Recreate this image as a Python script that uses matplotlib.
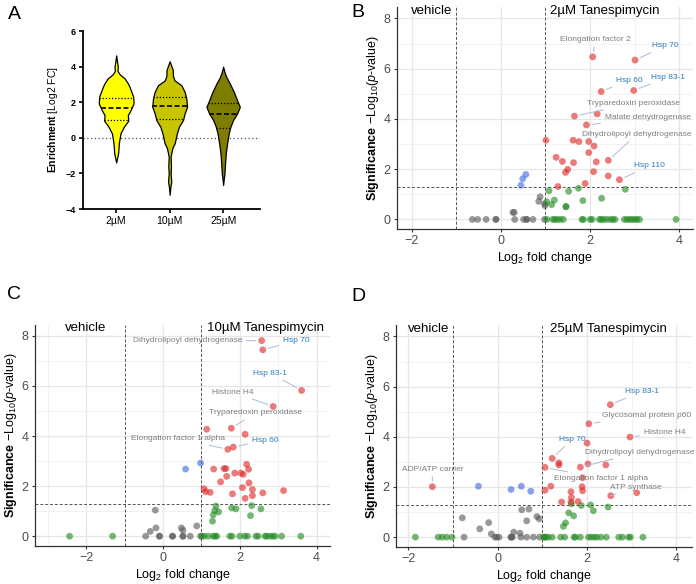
import numpy as np
import matplotlib
matplotlib.use("Agg")
from matplotlib import pyplot as plt
from matplotlib.ticker import MultipleLocator

plt.rcParams['font.family'] = ['Liberation Sans', 'DejaVu Sans']
plt.rcParams['mathtext.fontset'] = 'custom'
plt.rcParams['mathtext.rm'] = 'Liberation Sans'
plt.rcParams['mathtext.it'] = 'Liberation Sans:italic'
plt.rcParams['mathtext.bf'] = 'Liberation Sans:bold'

# ---------------- Panel A: violin profiles (y level, half width) ----------------
doses = ['2µM', '10µM', '25µM']
violin_colors = ['#ffff00', '#c8c400', '#7f7d00']

v1_y = [-1.38, -1.1, -0.86, -0.3, 0.25, 0.63, 0.96, 1.28, 1.56, 1.93, 2.31, 2.86, 3.05, 3.33, 3.57, 3.75, 4.0, 4.3, 4.63]
v1_w = [0.0, 0.02, 0.037, 0.05, 0.08, 0.145, 0.225, 0.218, 0.27, 0.325, 0.318, 0.25, 0.22, 0.16, 0.065, 0.025, 0.03, 0.015, 0.0]
v2_y = [-3.2, -2.8, -2.45, -2.0, -1.6, -1.05, -0.58, -0.3, 0.25, 0.63, 1.0, 1.37, 1.74, 2.2, 2.58, 2.95, 3.23, 3.5, 3.8, 4.05, 4.3]
v2_w = [0.0, 0.012, 0.03, 0.018, 0.025, 0.018, 0.05, 0.095, 0.135, 0.175, 0.25, 0.28, 0.325, 0.312, 0.28, 0.22, 0.09, 0.06, 0.06, 0.03, 0.0]
v3_y = [-2.65, -2.3, -2.0, -1.4, -0.86, -0.3, 0.25, 0.63, 1.0, 1.37, 1.74, 2.1, 2.58, 3.05, 3.4, 3.7, 4.0]
v3_w = [0.0, 0.012, 0.025, 0.037, 0.05, 0.075, 0.105, 0.137, 0.187, 0.262, 0.312, 0.262, 0.2, 0.125, 0.062, 0.025, 0.0]
q_low = [1.0, 1.05, 0.55]
q_med = [1.68, 1.78, 1.35]
q_high = [2.25, 2.3, 1.97]

# ---------------- Panel B: 2µM ----------------
b_red_x = [2.06, 3.01, 2.25, 2.98, 1.65, 2.16, 1.92, 1.01, 1.62, 1.75, 1.97, 2.09, 1.97, 2.41, 2.14, 1.24, 1.38, 1.63, 1.50, 1.45, 2.08, 2.41, 2.66, 1.28, 1.89]
b_red_y = [6.47, 6.34, 5.09, 5.13, 4.11, 4.20, 3.76, 3.15, 3.15, 3.10, 3.10, 2.92, 2.66, 2.35, 2.29, 2.47, 2.31, 2.26, 1.99, 1.87, 1.90, 1.73, 1.58, 1.31, 1.43]
b_blue_x = [0.45, 0.49, 0.56]
b_blue_y = [1.36, 1.62, 1.79]
b_green_x = [1.08, 1.14, 1.20, 1.46, 1.52, 1.74, 1.84, 2.26, 2.79, 1.03, 1.46,
             1.03, 1.16, 1.21, 1.26, 1.33, 1.40, 1.82, 1.85, 2.00, 2.05, 2.21, 2.25, 2.30, 2.37, 2.45,
             2.51, 2.56, 2.77, 2.83, 2.89, 2.94, 3.00, 3.05, 3.11, 3.93]
b_green_y = [1.14, 0.59, 0.77, 0.50, 1.12, 1.24, 0.75, 0.84, 1.20, 0.70, 0.52,
             0, 0, 0, 0, 0, 0, 0, 0, 0, 0, 0, 0, 0, 0, 0,
             0, 0, 0, 0, 0, 0, 0, 0, 0, 0]
b_grey_x = [0.88, 0.85, 0.99, 0.98, 0.27, 0.30, -0.64, -0.52, -0.33, -0.11, -0.11, 0.31, 0.51, 0.58, 0.58, 0.72, 0.98]
b_grey_y = [0.90, 0.72, 0.55, 0.62, 0.28, 0.28, 0, 0, 0, 0, 0, 0, 0, 0, 0, 0, 0]
b_labels = ['Elongation factor 2', 'Hsp 70', 'Hsp 60', 'Hsp 83-1', 'Tryparedoxin peroxidase',
            'Malate dehydrogenase', 'Dihydrolipoyl dehydrogenase', 'Hsp 110']
b_lab_pt = [(2.06, 6.47), (3.01, 6.34), (2.25, 5.09), (2.98, 5.13), (1.65, 4.11), (1.92, 3.76), (2.41, 2.35), (2.66, 1.58)]
b_lab_txt = [(2.12, 7.16), (3.69, 6.91), (2.87, 5.53), (3.74, 5.65), (2.98, 4.62), (3.29, 4.05), (3.05, 3.38), (3.34, 2.13)]
b_lab_hsp = [False, True, True, True, False, False, False, True]

# ---------------- Panel C: 10µM ----------------
c_red_x = [2.57, 2.60, 3.61, 2.87, 1.14, 1.78, 2.14, 1.69, 1.83, 1.32, 1.59, 1.64, 2.18, 2.23, 1.87, 2.03, 2.09, 1.66,
           1.50, 2.24, 2.07, 2.33, 2.33, 2.14, 2.60, 3.14, 1.07, 1.11, 1.23, 1.81]
c_red_y = [7.81, 7.44, 5.82, 5.18, 4.27, 4.31, 4.07, 3.47, 3.56, 2.68, 2.70, 2.70, 2.87, 2.67, 2.52, 2.52, 2.47, 2.39,
           2.17, 2.13, 1.94, 1.86, 1.62, 1.51, 1.73, 1.82, 1.89, 1.78, 1.75, 1.69]
c_blue_x = [0.59, 0.98]
c_blue_y = [2.68, 2.92]
c_green_x = [1.38, 1.35, 1.45, 1.31, 1.29, 1.79, 1.90, 2.31, 2.55, 2.28,
             -2.43, -1.31, 1.01, 1.07, 1.18, 1.31, 1.36, 1.40, 1.74, 1.80, 2.00, 2.13, 2.20, 2.42, 2.48,
             2.66, 2.70, 2.79, 2.86, 2.92, 3.09, 3.59]
c_green_y = [1.20, 1.02, 0.97, 0.85, 0.60, 1.13, 1.09, 1.22, 1.09, 0.82,
             0, 0, 0, 0, 0, 0, 0, 0, 0, 0, 0, 0, 0, 0, 0,
             0, 0, 0, 0, 0, 0, 0]
c_grey_x = [-0.20, -0.18, -0.33, 0.48, 0.52, 0.88, -0.45, -0.09, -0.09, 0.25, 0.25, 0.52, 0.52, 0.71, 0.98]
c_grey_y = [1.04, 0.33, 0.19, 0.33, 0.24, 0.41, 0, 0, 0, 0, 0, 0, 0, 0, 0]
c_labels = ['Dihydrolipoyl dehydrogenase', 'Hsp 70', 'Hsp 83-1', 'Histone H4', 'Tryparedoxin peroxidase',
            'Elongation factor 1 alpha', 'Hsp 60']
c_lab_pt = [(2.57, 7.81), (2.60, 7.44), (3.61, 5.82), (2.87, 5.18), (1.78, 4.31), (1.69, 3.47), (1.83, 3.56)]
c_lab_txt = [(0.64, 7.81), (3.47, 7.81), (2.80, 6.51), (1.83, 5.75), (2.41, 4.92), (0.40, 3.89), (2.66, 3.83)]
c_lab_hsp = [False, True, True, False, False, False, True]

# ---------------- Panel D: 25µM ----------------
d_red_x = [2.52, 2.04, 2.96, 2.00, 1.22, 1.37, 1.37, 2.02, 2.42, 1.85, 1.06, 1.90, -1.46, 1.19, 1.06, 1.89,
           1.64, 1.65, 1.90, 2.53, 3.11, 1.43, 1.64, 1.80]
d_red_y = [5.28, 4.52, 3.99, 3.75, 3.14, 2.96, 2.88, 2.92, 2.88, 2.79, 2.78, 2.37, 2.01, 2.03, 1.87, 2.01,
           1.81, 1.58, 1.85, 1.65, 1.77, 1.40, 1.40, 1.42]
d_blue_x = [-0.43, 0.30, 0.53, 0.74]
d_blue_y = [2.03, 1.90, 2.03, 1.83]
d_green_x = [1.65, 1.87, 2.08, 2.14, 2.47, 1.59, 1.70, 1.52, 1.47,
             -1.84, -1.33, -1.24, -1.14, -1.02, 1.04, 1.04, 1.08, 1.13, 1.22, 1.41, 1.50, 1.71, 1.74, 1.85,
             2.03, 2.09, 2.16, 2.22, 2.31, 2.43, 2.71, 2.79, 2.93, 2.97, 3.25]
d_green_y = [1.33, 1.26, 1.28, 1.05, 1.20, 0.97, 0.85, 0.57, 0.43,
             0, 0, 0, 0, 0, 0, 0, 0, 0, 0, 0, 0, 0, 0, 0,
             0, 0, 0, 0, 0, 0, 0, 0, 0, 0, 0]
d_grey_x = [-0.79, -0.40, -0.20, -0.14, 0.36, 0.50, 0.54, 0.70, 0.65, 0.88, 0.93,
            -0.75, -0.06, -0.02, 0.03, 0.30, 0.30, 0.33, 0.52, 0.65, 0.80, 0.94]
d_grey_y = [0.77, 0.33, 0.58, 0.13, 0.20, 0.16, 1.09, 1.12, 0.65, 0.82, 0.73,
            0, 0, 0, 0, 0, 0, 0, 0, 0, 0, 0]
d_labels = ['Hsp 83-1', 'Glycosomal protein p60', 'Histone H4', 'Hsp 70', 'Dihydrolipoyl dehydrogenase',
            'ADP/ATP carrier', 'Elongation factor 1 alpha', 'ATP synthase']
d_lab_pt = [(2.52, 5.28), (2.04, 4.52), (2.96, 3.99), (1.22, 3.14), (1.85, 2.79), (-1.46, 2.01), (1.06, 2.78), (2.53, 1.65)]
d_lab_txt = [(3.22, 5.81), (3.33, 4.84), (3.73, 4.17), (1.67, 3.91), (3.18, 3.38), (-1.46, 2.71), (2.31, 2.34), (3.08, 1.99)]
d_lab_hsp = [True, False, False, True, False, False, False, False]

fig = plt.figure(figsize=(6.96, 5.84), dpi=100)

# ---- Panel A ----
axA = fig.add_axes([0.1193, 0.6421, 0.2543, 0.3048])
profiles = [(v1_y, v1_w), (v2_y, v2_w), (v3_y, v3_w)]
for i, (yy, ww) in enumerate(profiles):
    yy = np.array(yy); ww = np.array(ww)
    axA.fill_betweenx(yy, i - ww, i + ww, facecolor=violin_colors[i], edgecolor='black', lw=0.9, zorder=2)
    for q, ls, lw in [(q_low[i], (0, (1, 1.5)), 0.9), (q_high[i], (0, (1, 1.5)), 0.9), (q_med[i], (0, (3, 1.5)), 1.2)]:
        hw = np.interp(q, yy, ww)
        axA.plot([i - hw, i + hw], [q, q], color='black', ls=ls, lw=lw, zorder=3)
axA.axhline(0, color='#555555', ls=(0, (1, 2)), lw=0.9, zorder=1)
axA.set_xlim(-0.62, 2.69)
axA.set_ylim(-4, 6)
axA.set_yticks([-4, -2, 0, 2, 4, 6])
axA.set_xticks([0, 1, 2])
axA.set_xticklabels(doses, fontsize=7.5)
for lab in axA.get_yticklabels():
    lab.set_fontweight('bold')
    lab.set_fontsize(6.5)
axA.tick_params(width=1.2, length=3, pad=2)
for s in ['top', 'right']:
    axA.spines[s].set_visible(False)
for s in ['left', 'bottom']:
    axA.spines[s].set_linewidth(1.3)
axA.set_ylabel(r'$\bf{Enrichment}$ [Log2 FC]', fontsize=7.5, labelpad=4)


def volcano(rect, xlim, red, blue, green, grey, labels, lab_pt, lab_txt, lab_hsp, right_title):
    ax = fig.add_axes(rect)
    ax.set_xlim(*xlim)
    ax.set_ylim(-0.38, 8.45)
    ax.xaxis.set_major_locator(MultipleLocator(2))
    ax.xaxis.set_minor_locator(MultipleLocator(1))
    ax.yaxis.set_major_locator(MultipleLocator(2))
    ax.yaxis.set_minor_locator(MultipleLocator(1))
    ax.grid(which='major', color='#e6e6e6', lw=0.9, zorder=0)
    ax.grid(which='minor', color='#f0f0f0', lw=0.6, zorder=0)
    ax.set_axisbelow(True)
    for s in ['top', 'right']:
        ax.spines[s].set_visible(False)
    for s in ['left', 'bottom']:
        ax.spines[s].set_color('#333333')
        ax.spines[s].set_linewidth(0.9)
    ax.tick_params(which='major', length=2.5, color='#333333', labelcolor='#4d4d4d', labelsize=9, pad=2)
    ax.tick_params(which='minor', length=0)
    ax.axvline(-1, color='#555555', ls=(0, (3, 2)), lw=0.7, zorder=1)
    ax.axvline(1, color='#555555', ls=(0, (3, 2)), lw=0.7, zorder=1)
    ax.axhline(1.3, color='#555555', ls=(0, (3, 2)), lw=0.7, zorder=1)
    for (xs, ys), col in [(grey, '#5a5a5a'), (green, '#228b22'), (blue, '#4169e1'), (red, '#e02828')]:
        ax.scatter(xs, ys, s=24, c=col, alpha=0.62, edgecolors='none', zorder=3)
    for lab, pt, tx, hsp in zip(labels, lab_pt, lab_txt, lab_hsp):
        ax.annotate(lab, xy=pt, xytext=tx, ha='center', va='center', fontsize=6,
                    color='#2b7bba' if hsp else '#7f7f7f',
                    arrowprops=dict(arrowstyle='-', color='#a8bcd8', lw=0.7, shrinkA=1, shrinkB=4), zorder=4)
    ax.text(-1.55 if xlim[0] > -3 else -2.0, 8.3, 'vehicle', fontsize=9.5, ha='center', va='center')
    ax.text(right_title[0], 8.3, right_title[1], fontsize=9.5, ha='center', va='center')
    ax.set_xlabel(r'Log$_2$ fold change', fontsize=9, labelpad=2)
    ax.set_ylabel(r'$\bf{Significance}$ $-$Log$_{10}$($p$-value)', fontsize=9, labelpad=2)
    return ax


volcano([0.5704, 0.6079, 0.4253, 0.380], (-2.33, 4.31),
        (b_red_x, b_red_y), (b_blue_x, b_blue_y), (b_green_x, b_green_y), (b_grey_x, b_grey_y),
        b_labels, b_lab_pt, b_lab_txt, b_lab_hsp, (2.34, '2µM Tanespimycin'))
volcano([0.0503, 0.0656, 0.4239, 0.3786], (-3.33, 4.35),
        (c_red_x, c_red_y), (c_blue_x, c_blue_y), (c_green_x, c_green_y), (c_grey_x, c_grey_y),
        c_labels, c_lab_pt, c_lab_txt, c_lab_hsp, (2.67, '10µM Tanespimycin'))
volcano([0.5685, 0.0639, 0.4253, 0.3793], (-2.28, 4.34),
        (d_red_x, d_red_y), (d_blue_x, d_blue_y), (d_green_x, d_green_y), (d_grey_x, d_grey_y),
        d_labels, d_lab_pt, d_lab_txt, d_lab_hsp, (2.47, '25µM Tanespimycin'))

for lab, x, y in [('A', 0.012, 0.975), ('B', 0.505, 0.978), ('C', 0.010, 0.495), ('D', 0.505, 0.493)]:
    fig.text(x, y, lab, fontsize=14, ha='left', va='center')

fig.savefig('out.png', dpi=100)
